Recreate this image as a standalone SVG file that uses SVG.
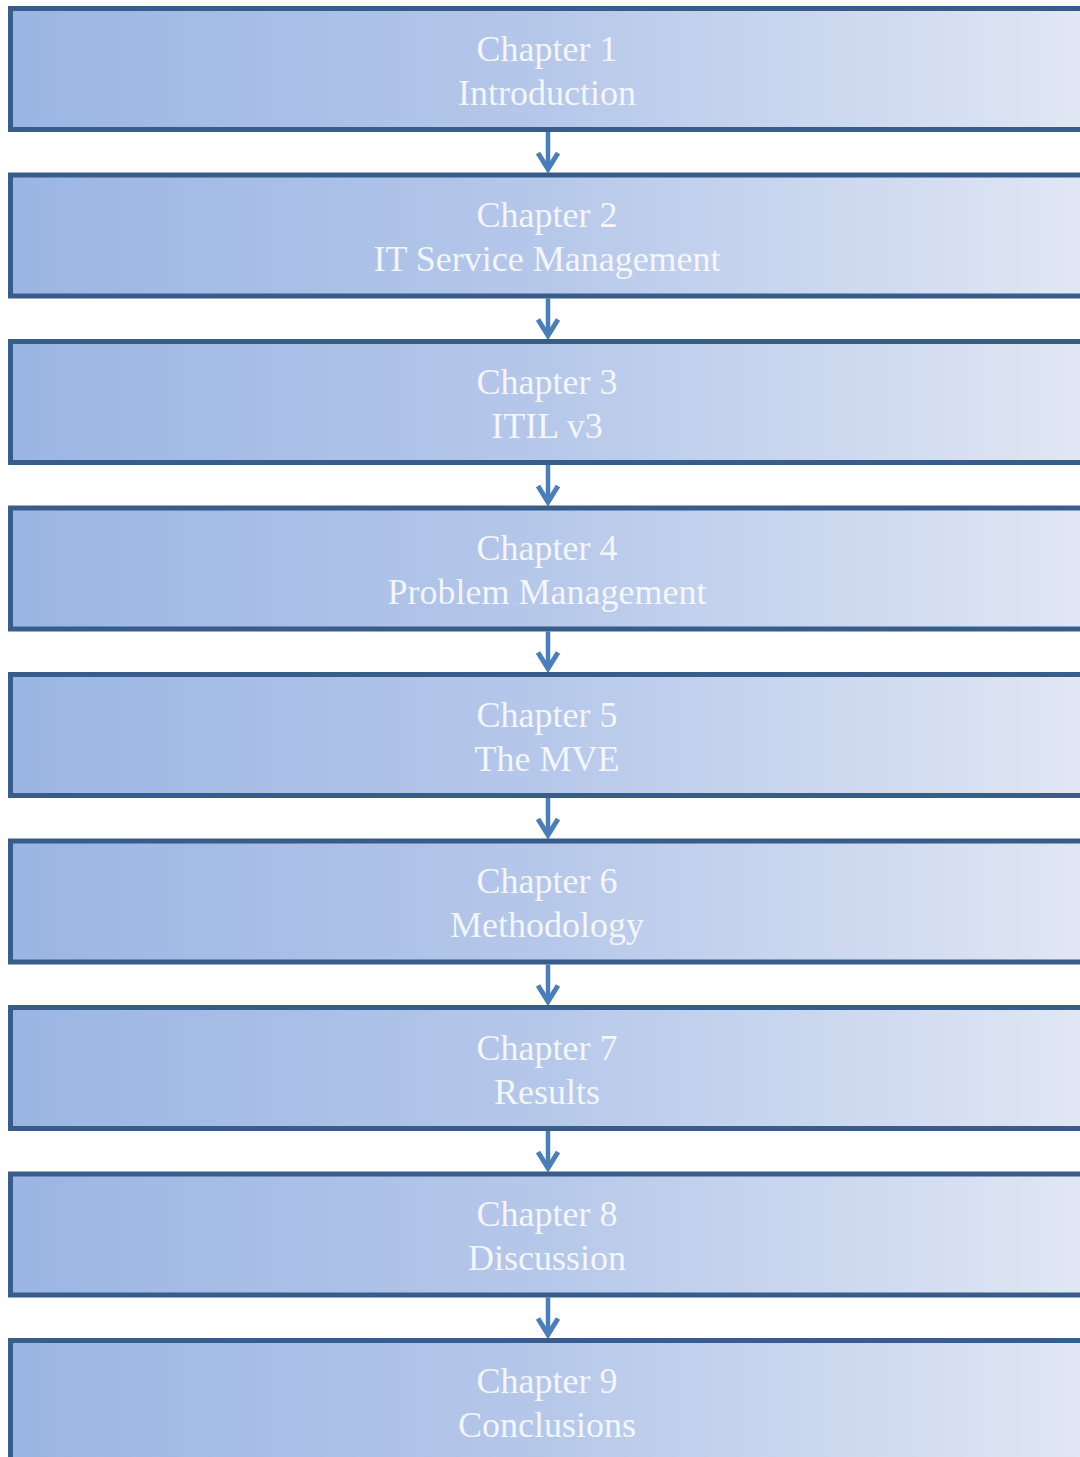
<svg xmlns="http://www.w3.org/2000/svg" width="1080" height="1457" viewBox="0 0 1080 1457">
  <defs>
    <linearGradient id="boxFill" x1="0" y1="0" x2="1" y2="0">
      <stop offset="0" stop-color="#9bb5e3"/>
      <stop offset="0.5" stop-color="#b6c8ea"/>
      <stop offset="1" stop-color="#e1e7f4"/>
    </linearGradient>
    <style>
      .box { fill: url(#boxFill); stroke: #385d8a; stroke-width: 5; }
      .label { font-family: "Liberation Serif", "Times New Roman", serif; font-size: 36px; fill: #ffffff; fill-opacity: 0.85; text-anchor: middle; }
      .shaft { stroke: #4a7ebb; stroke-width: 4.5; fill: none; }
      .head { stroke: #4a7ebb; stroke-width: 5; fill: none; stroke-linejoin: miter; stroke-linecap: butt; }
    </style>
  </defs>
  <rect width="1080" height="1457" fill="#ffffff"/>

  <!-- connectors between consecutive chapter boxes -->
  <g id="connectors">
    <g transform="translate(0,0)"><line class="shaft" x1="548" y1="132" x2="548" y2="168"/><polyline class="head" points="538,153 548,169 558,153"/></g>
    <g transform="translate(0,166.5)"><line class="shaft" x1="548" y1="132" x2="548" y2="168"/><polyline class="head" points="538,153 548,169 558,153"/></g>
    <g transform="translate(0,333)"><line class="shaft" x1="548" y1="132" x2="548" y2="168"/><polyline class="head" points="538,153 548,169 558,153"/></g>
    <g transform="translate(0,499.5)"><line class="shaft" x1="548" y1="132" x2="548" y2="168"/><polyline class="head" points="538,153 548,169 558,153"/></g>
    <g transform="translate(0,666)"><line class="shaft" x1="548" y1="132" x2="548" y2="168"/><polyline class="head" points="538,153 548,169 558,153"/></g>
    <g transform="translate(0,832.5)"><line class="shaft" x1="548" y1="132" x2="548" y2="168"/><polyline class="head" points="538,153 548,169 558,153"/></g>
    <g transform="translate(0,999)"><line class="shaft" x1="548" y1="132" x2="548" y2="168"/><polyline class="head" points="538,153 548,169 558,153"/></g>
    <g transform="translate(0,1165.5)"><line class="shaft" x1="548" y1="132" x2="548" y2="168"/><polyline class="head" points="538,153 548,169 558,153"/></g>
  </g>

  <g id="chapter1" transform="translate(0,0)">
    <rect class="box" x="10.5" y="8.5" width="1080" height="121"/>
    <text class="label" x="547" y="60.5">Chapter 1</text>
    <text class="label" x="547" y="104.5">Introduction</text>
  </g>
  <g id="chapter2" transform="translate(0,166.5)">
    <rect class="box" x="10.5" y="8.5" width="1080" height="121"/>
    <text class="label" x="547" y="60.5">Chapter 2</text>
    <text class="label" x="547" y="104.5">IT Service Management</text>
  </g>
  <g id="chapter3" transform="translate(0,333)">
    <rect class="box" x="10.5" y="8.5" width="1080" height="121"/>
    <text class="label" x="547" y="60.5">Chapter 3</text>
    <text class="label" x="547" y="104.5">ITIL v3</text>
  </g>
  <g id="chapter4" transform="translate(0,499.5)">
    <rect class="box" x="10.5" y="8.5" width="1080" height="121"/>
    <text class="label" x="547" y="60.5">Chapter 4</text>
    <text class="label" x="547" y="104.5">Problem Management</text>
  </g>
  <g id="chapter5" transform="translate(0,666)">
    <rect class="box" x="10.5" y="8.5" width="1080" height="121"/>
    <text class="label" x="547" y="60.5">Chapter 5</text>
    <text class="label" x="547" y="104.5">The MVE</text>
  </g>
  <g id="chapter6" transform="translate(0,832.5)">
    <rect class="box" x="10.5" y="8.5" width="1080" height="121"/>
    <text class="label" x="547" y="60.5">Chapter 6</text>
    <text class="label" x="547" y="104.5">Methodology</text>
  </g>
  <g id="chapter7" transform="translate(0,999)">
    <rect class="box" x="10.5" y="8.5" width="1080" height="121"/>
    <text class="label" x="547" y="60.5">Chapter 7</text>
    <text class="label" x="547" y="104.5">Results</text>
  </g>
  <g id="chapter8" transform="translate(0,1165.5)">
    <rect class="box" x="10.5" y="8.5" width="1080" height="121"/>
    <text class="label" x="547" y="60.5">Chapter 8</text>
    <text class="label" x="547" y="104.5">Discussion</text>
  </g>
  <g id="chapter9" transform="translate(0,1332)">
    <rect class="box" x="10.5" y="8.5" width="1080" height="121"/>
    <text class="label" x="547" y="60.5">Chapter 9</text>
    <text class="label" x="547" y="104.5">Conclusions</text>
  </g>
</svg>
